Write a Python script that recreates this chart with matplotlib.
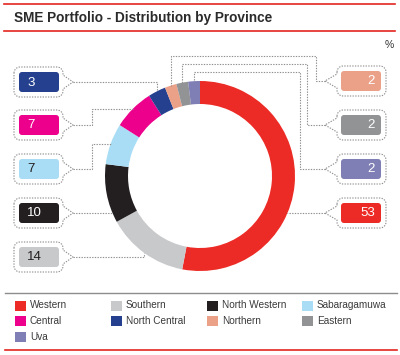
import numpy as np
import matplotlib
matplotlib.use('Agg')
import matplotlib.pyplot as plt
from matplotlib.patches import FancyBboxPatch, Rectangle

plt.rcParams['font.family'] = ['Liberation Sans', 'DejaVu Sans']

# data
provinces = ['Western', 'Southern', 'North Western', 'Sabaragamuwa', 'Central',
             'North Central', 'Northern', 'Eastern', 'Uva']
shares = [53, 14, 10, 7, 7, 3, 2, 2, 2]
colors = ['#ED2B26', '#C8C9CB', '#231F20', '#A8DDF5', '#EC008C',
          '#24408E', '#EBA088', '#919395', '#7F7FB5']

# callout layout: side, box centre y, leader route
box_side = ['right', 'left', 'left', 'left', 'left', 'left', 'right', 'right', 'right']
box_y = [213, 257, 213, 169, 125, 82, 81, 125, 169]
routes = [('ring',), ('corner',), ('ring',), ('step', 92), ('step', 92), ('corner',),
          ('over', 316, 56), ('over', 307, 64), ('over', 300, 72)]
dark_text = ['Southern', 'Sabaragamuwa']

fig = plt.figure(figsize=(4, 3.55), dpi=100)
ax = fig.add_axes([0, 0, 1, 1])

cx, cy, R, W = 200, 176, 95, 23
ax.pie(shares, colors=colors, startangle=-90, counterclock=True,
       center=(cx, cy), radius=R, wedgeprops=dict(width=W, linewidth=0))

ax.set_xlim(0, 400)
ax.set_ylim(355, 0)
ax.set_aspect('equal')
ax.axis('off')

# title and rules
ax.plot([4, 395], [4, 4], color='#E5251F', lw=1.2)
ax.plot([4, 395], [31, 31], color='#E5251F', lw=1.2)
ax.text(14, 18, 'SME Portfolio - Distribution by Province', fontsize=9.8,
        fontweight='bold', color='#2B2B2B', va='center', ha='left')
ax.text(394, 45, '%', fontsize=7.5, color='#333333', va='center', ha='right')

lc = '#8E8E8E'
dots = (0, (1.2, 1.2))


def outline(x0, x1, yc, h, r, side, tip, ph):
    yt, yb = yc - h / 2, yc + h / 2
    pts = []

    def arc(ccx, ccy, a0, a1):
        for a in np.linspace(np.radians(a0), np.radians(a1), 8):
            pts.append((ccx + r * np.cos(a), ccy + r * np.sin(a)))
    arc(x0 + r, yt + r, 180, 270)
    arc(x1 - r, yt + r, 270, 360)
    if side == 'left':  # box on left, pointer on right edge
        pts += [(x1, yc - ph), (tip, yc), (x1, yc + ph)]
    arc(x1 - r, yb - r, 0, 90)
    arc(x0 + r, yb - r, 90, 180)
    if side == 'right':
        pts += [(x0, yc + ph), (tip, yc), (x0, yc - ph)]
    pts.append(pts[0])
    xs, ys = zip(*pts)
    ax.plot(xs, ys, color=lc, lw=0.8, ls=dots)


total = sum(shares)
cum = 0
for name, v, col, side, yb, rt in zip(provinces, shares, colors, box_side, box_y, routes):
    a = np.radians(-90 + 360 * (cum + v / 2) / total)
    cum += v
    axp, ayp = cx + R * np.cos(a), cy + R * np.sin(a)
    if side == 'left':
        ox0, ox1, ix0, ix1, tip = 14, 63, 19, 59, 73
    else:
        ox0, ox1, ix0, ix1, tip = 337, 386, 341, 381, 325
    outline(ox0, ox1, yb, 30, 6, side, tip, 7)
    ax.add_patch(FancyBboxPatch((ix0, yb - 10), ix1 - ix0, 20,
                                boxstyle='round,pad=0,rounding_size=3',
                                fc=col, ec='none'))
    tcol = '#231F20' if name in dark_text else 'white'
    if side == 'left':
        ax.text(27, yb + 0.5, str(v), color=tcol, fontsize=9.5, va='center', ha='left')
    else:
        ax.text(375, yb + 0.5, str(v), color=tcol, fontsize=9.5, va='center', ha='right')

    # leader line
    if rt[0] == 'ring':
        dx = np.sqrt(R ** 2 - (yb - cy) ** 2)
        ex = cx - dx if side == 'left' else cx + dx
        px, py = [tip, ex], [yb, yb]
    elif rt[0] == 'corner':
        px, py = [tip, axp, axp], [yb, yb, ayp]
    elif rt[0] == 'step':
        px, py = [tip, rt[1], rt[1], axp], [yb, yb, ayp, ayp]
    else:
        px, py = [tip, rt[1], rt[1], axp, axp], [yb, yb, rt[2], rt[2], ayp]
    ax.plot(px, py, color=lc, lw=0.8, ls=dots)

# legend
ax.plot([5, 397], [293, 293], color='#8C8C8C', lw=1.0)
ax.plot([5, 397], [350, 350], color='#E5251F', lw=1.2)
col_sq = [15, 111, 207, 302]
row_y = [305.5, 321, 337]
for i, (name, col) in enumerate(zip(provinces, colors)):
    r, c = divmod(i, 4)
    ax.add_patch(Rectangle((col_sq[c], row_y[r] - 5), 11, 10, fc=col, ec='none'))
    ax.text(col_sq[c] + 15, row_y[r], name, fontsize=7.2, color='#3A3A3A',
            va='center', ha='left')

fig.savefig('out.png', dpi=100)
